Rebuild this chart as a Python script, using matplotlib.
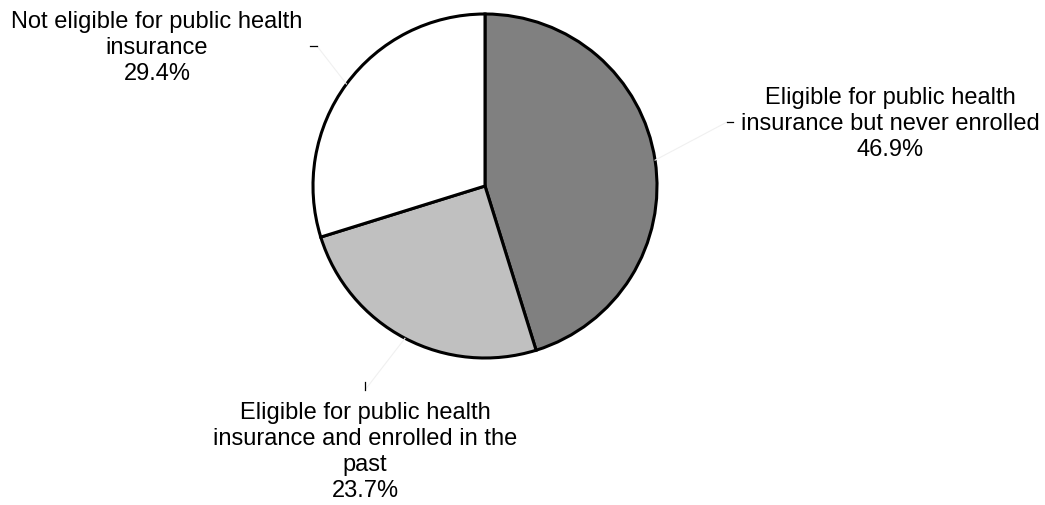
import matplotlib.pyplot as plt
import numpy as np
from matplotlib.lines import Line2D

labels = ["Eligible for public health\ninsurance but never enrolled",
          "Eligible for public health\ninsurance and enrolled in the\npast",
          "Not eligible for public health\ninsurance"]
# percentages printed in the labels
shares = [46.9, 23.7, 29.4]
# wedge sizes as drawn in the picture (they differ slightly from the labels)
drawn = [45.2, 25.0, 29.8]
colors = ["#808080", "#c0c0c0", "#ffffff"]

W, H = 1045, 506
fig = plt.figure(figsize=(W / 100, H / 100), dpi=100)
plt.rcParams['font.family'] = ['Liberation Sans', 'DejaVu Sans']

cx, cy, r = 485, 187, 172
ax = fig.add_axes([(cx - r) / W, (H - cy - r) / H, 2 * r / W, 2 * r / H])
wedges, _ = ax.pie(drawn, colors=colors, startangle=90, counterclock=False,
                   wedgeprops=dict(edgecolor="black", linewidth=2.2))
ax.set_xlim(-1, 1)
ax.set_ylim(-1, 1)
ax.set_aspect("auto")
ax.axis("off")

# label text centre, dash end points (pixels from top-left)
text_pos = [(890, 124), (365, 452), (157, 48)]
dash_pos = [((727, 123), (733, 123)), ((365, 383), (365, 391)), ((310, 47), (317, 47))]
lead_end = [(727, 123), (365, 391), (317, 47)]


def fx(x):
    return x / W


def fy(y):
    return (H - y) / H


for w, lab, s, tp, dp, le in zip(wedges, labels, shares, text_pos, dash_pos, lead_end):
    mid = np.deg2rad((w.theta1 + w.theta2) / 2)
    ex, ey = cx + r * np.cos(mid), cy - r * np.sin(mid)
    # faint leader line
    fig.add_artist(Line2D([fx(ex), fx(le[0])], [fy(ey), fy(le[1])],
                          color="#f0f0f0", linewidth=0.8, transform=fig.transFigure))
    fig.add_artist(Line2D([fx(dp[0][0]), fx(dp[1][0])], [fy(dp[0][1]), fy(dp[1][1])],
                          color="black", linewidth=0.9, transform=fig.transFigure))
    fig.text(fx(tp[0]), fy(tp[1]), "%s\n%.1f%%" % (lab, s), ha="center", va="center",
             fontsize=17, linespacing=1.25)

plt.savefig("out.png", dpi=100)
